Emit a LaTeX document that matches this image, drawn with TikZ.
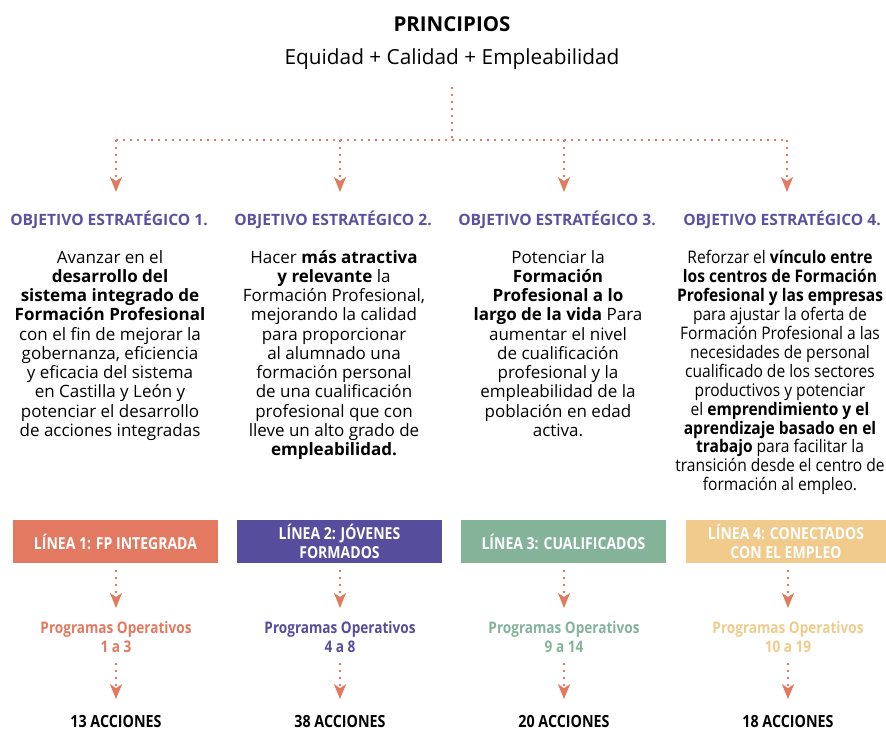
\documentclass[tikz,border=0pt]{standalone}
\usepackage{fontspec}
\usepackage{xcolor}
\usepackage{tikz}
\usetikzlibrary{arrows.meta}
\setmainfont{Open Sans}
\newfontfamily\condf[FakeStretch=0.85]{Open Sans}
\newfontfamily\narrowf[FakeStretch=0.9]{Open Sans}
\definecolor{fporange}{RGB}{226, 121, 96}
\definecolor{fppurple}{RGB}{86, 77, 156}
\definecolor{fpgreen}{RGB}{132, 179, 154}
\definecolor{fpyellow}{RGB}{240, 203, 140}
\definecolor{objpurple}{RGB}{90, 82, 160}

\begin{document}
\begin{tikzpicture}[x = 1pt, y = -1pt,
	dots/.style = {draw = fporange, line width = 1.8pt, dash pattern = on 1.8pt off 5.2pt},
	arr/.style = {dots, -{Stealth[length = 15pt, width = 12pt, inset = 4pt, fill = fporange]}},
	objtit/.style = {anchor = base, inner sep = 0pt, text = objpurple, font = \bfseries\fontsize{15.6}{18}\selectfont},
	body/.style = {anchor = north, align = center, inner sep = 0pt, font = \fontsize{17}{19.25}\selectfont},
	bodyc/.style = {body, font = \narrowf\fontsize{17.3}{18.95}\selectfont},
	linebox/.style = {minimum width = 205pt, minimum height = 43pt, inner sep = 0pt, align = center, text = white, font = \condf\bfseries\fontsize{16.5}{19}\selectfont},
	prog/.style = {anchor = north, align = center, inner sep = 0pt, font = \condf\bfseries\fontsize{16}{19}\selectfont},
	acc/.style = {anchor = base, inner sep = 0pt, font = \condf\bfseries\fontsize{16.8}{18}\selectfont}]
	\useasboundingbox (0,0) rectangle (886,731);
	% principios
	\node (tit) at (452,31) [anchor = base, inner sep = 0pt, font = \bfseries\fontsize{20.5}{22}\selectfont] {PRINCIPIOS};
	\node (prin) at (452,64) [anchor = base, inner sep = 0pt, font = \fontsize{20.8}{24}\selectfont] {Equidad + Calidad + Empleabilidad};
	\coordinate (top) at (452,87);
	\coordinate (hub) at (452,140);
	\coordinate (h1) at (116,140);
	\coordinate (h2) at (340,140);
	\coordinate (h3) at (564,140);
	\coordinate (h4) at (787,140);
	\coordinate (e1) at (116,192);
	\coordinate (e2) at (340,192);
	\coordinate (e3) at (564,192);
	\coordinate (e4) at (787,192);
	\draw[dots] (top) -- (hub);
	\draw[dots] (h1) -- (h4);
	\draw[arr] (h1) -- (e1);
	\draw[arr] (h2) -- (e2);
	\draw[arr] (h3) -- (e3);
	\draw[arr] (h4) -- (e4);
	% objetivos
	\node (o1) at (109,225) [objtit] {OBJETIVO ESTRATÉGICO 1.};
	\node (o2) at (333,225) [objtit] {OBJETIVO ESTRATÉGICO 2.};
	\node (o3) at (557,225) [objtit] {OBJETIVO ESTRATÉGICO 3.};
	\node (o4) at (782,225) [objtit] {OBJETIVO ESTRATÉGICO 4.};
	\node (t1) at (110,250) [body] {Avanzar en el\\ \textbf{desarrollo del}\\ \textbf{sistema integrado de}\\ \textbf{Formación Profesional}\\ con el fin de mejorar la\\ gobernanza, eficiencia\\ y eficacia del sistema\\ en Castilla y León y\\ potenciar el desarrollo\\ de acciones integradas};
	\node (t2) at (334,250) [body] {Hacer \textbf{más atractiva}\\ \textbf{y relevante} la\\ Formación Profesional,\\ mejorando la calidad\\ para proporcionar\\ al alumnado una\\ formación personal\\ de una cualificación\\ profesional que con\\ lleve un alto grado de\\ \textbf{empleabilidad.}};
	\node (t3) at (558,250) [body] {Potenciar la\\ \textbf{Formación}\\ \textbf{Profesional a lo}\\ \textbf{largo de la vida} Para\\ aumentar el nivel\\ de cualificación\\ profesional y la\\ empleabilidad de la\\ población en edad\\ activa.};
	\node (t4) at (780,250) [bodyc] {Reforzar el \textbf{vínculo entre}\\ \textbf{los centros de Formación}\\ \textbf{Profesional y las empresas}\\ para ajustar la oferta de\\ Formación Profesional a las\\ necesidades de personal\\ cualificado de los sectores\\ productivos y potenciar\\ el \textbf{emprendimiento y el}\\ \textbf{aprendizaje basado en el}\\ \textbf{trabajo} para facilitar la\\ transición desde el centro de\\ formación al empleo.};
	% lineas
	\node (l1) at (115.5,541.5) [linebox, fill = fporange] {LÍNEA 1: FP INTEGRADA};
	\node (l2) at (339.5,541.5) [linebox, fill = fppurple] {LÍNEA 2: JÓVENES\\ FORMADOS};
	\node (l3) at (563.5,541.5) [linebox, fill = fpgreen] {LÍNEA 3: CUALIFICADOS};
	\node (l4) at (786,541.5) [linebox, fill = fpyellow, minimum width = 200pt] {LÍNEA 4: CONECTADOS\\ CON EL EMPLEO};
	\node (p1) at (116,621) [prog, text = fporange] {Programas Operativos\\ 1 a 3};
	\node (p2) at (340,621) [prog, text = fppurple] {Programas Operativos\\ 4 a 8};
	\node (p3) at (564,621) [prog, text = fpgreen] {Programas Operativos\\ 9 a 14};
	\node (p4) at (788,621) [prog, text = fpyellow] {Programas Operativos\\ 10 a 19};
	\node (a1) at (116,727.5) [acc] {13 ACCIONES};
	\node (a2) at (340,727.5) [acc] {38 ACCIONES};
	\node (a3) at (564,727.5) [acc] {20 ACCIONES};
	\node (a4) at (788,727.5) [acc] {18 ACCIONES};
	\foreach \i in {1,2,3,4} {
		\draw[arr, shorten <= 7pt, shorten >= 13pt] (l\i.south -| p\i) -- (p\i);
		\draw[arr, shorten <= 10pt, shorten >= 16pt] (p\i) -- (a\i);
	}
\end{tikzpicture}
\end{document}
